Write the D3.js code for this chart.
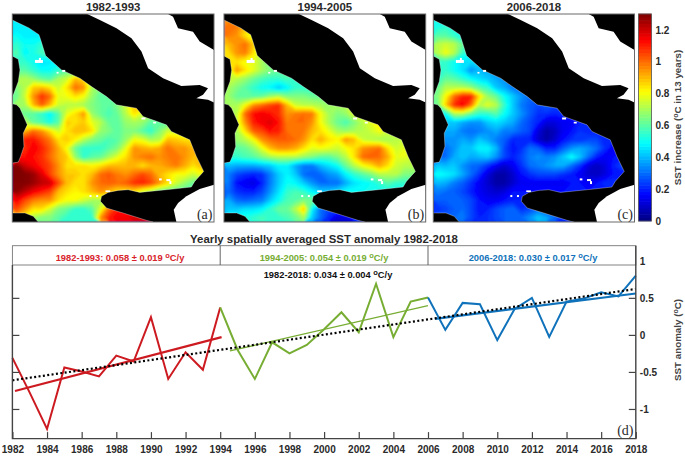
<!DOCTYPE html>
<html><head><meta charset="utf-8">
<script src="https://cdn.jsdelivr.net/npm/d3@7"></script>
<style>
html,body{margin:0;padding:0;background:#fff}
svg{display:block}
text{font-family:"Liberation Sans",Arial,sans-serif}
</style></head><body>
<svg id="c" width="685" height="456"></svg>
<script>
// ---------- DATA ----------
const yearsRed   = d3.range(1982,1995);
const valuesRed  = [-0.31,-0.78,-1.27,-0.44,-0.495,-0.56,-0.28,-0.36,0.24,-0.595,-0.234,-0.47,0.37];
const yearsGreen = d3.range(1994,2007);
const valuesGreen= [0.37,-0.2,-0.595,-0.10,-0.25,-0.135,0.077,0.306,0.036,0.69,-0.03,0.45,0.505];
const yearsBlue  = d3.range(2006,2019);
const valuesBlue = [0.505,0.068,0.432,0.414,-0.07,0.35,0.5,-0.027,0.45,0.49,0.575,0.52,0.8];
const trendRed   = [[1982.15,-0.757],[1994.08,-0.03]];
const trendGreen = [[1994.56,-0.216],[2006,0.396]];
const trendBlue  = [[2006.4,0.216],[2018,0.558]];
const trendAll   = [[1982,-0.613],[2018,0.62]];
const yearTicks  = d3.range(1982,2019,2);
const anomalyTicks = [-1,-0.5,0,0.5,1];
const colorTicks = [0,0.2,0.4,0.6,0.8,1,1.2];
const titles = ["1982-1993","1994-2005","2006-2018"];
const panelTags = ["(a)","(b)","(c)"];
const headerLabels = ["1982-1993: 0.058 ± 0.019 ","1994-2005: 0.054 ± 0.019 ","2006-2018: 0.030 ± 0.017 "];
const overallLabel = "1982-2018: 0.034 ± 0.004 ";
// Sea outline in panel units (606 x 625)
const seaOutline = [[0,18],[50,42],[80,62],[86,80],[100,125],[103,128],[148,168],[203,193],[238,218],[283,248],[313,273],[373,283],[393,308],[463,333],[478,353],[533,378],[553,428],[575,473],[548,503],[538,520],[463,528],[383,536],[348,528],[318,530],[288,536],[268,548],[265,563],[283,583],[333,598],[403,620],[423,625],[78,625],[63,608],[38,598],[0,598],[0,448],[18,445],[25,428],[35,398],[33,358],[45,333],[23,283],[13,273],[0,270],[0,250],[3,243],[18,203],[23,168],[18,136],[0,126]];
const whiteNorth = [[225,0],[263,18],[313,43],[358,73],[388,113],[408,163],[453,193],[508,216],[563,213],[588,223],[573,243],[553,253],[588,258],[606,266],[606,108],[563,83],[543,53],[498,43],[483,8],[468,0]];
const whiteSouth = [[606,513],[563,526],[523,548],[498,568],[485,588],[493,625],[606,625]];
const specks = [[68,138,24,9],[80,132,6,8],[133,174,6,5],[150,168,9,6],[388,311,12,6],[423,324,9,5],[441,494,8,6],[463,496,12,6],[472,502,6,9],[232,544,6,6],[252,544,6,6],[280,530,14,5]];
const gridA = [
[46,46,46,46],[46,48,45,45],[50,47,47,47],[55,50,50,55],[60,48,52,58,58],[55,55,50,45,47,47],
[60,60,55,50,50,55,60,60],[70,72,68,62,60,70,75,90,85,70],[65,72,88,90,85,75,85,100,95,70,65],
[62,75,95,108,100,78,80,85,80,68,60,60],[70,70,90,102,90,75,72,72,70,65,62,60,65,75,90,90],
[62,62,60,55,48,60,78,85,95,68,62,58,62,72,85,75,70],[72,72,62,58,52,60,88,85,88,78,72,62,60,68,70,68,60,60,60],
[90,90,100,95,85,75,85,90,90,85,68,65,60,65,65,60,55,65,75,75],[110,110,112,105,98,85,88,82,72,65,62,58,60,68,80,78,70,72,90,88,85,85],
[108,108,115,110,102,92,80,62,55,55,55,60,65,78,95,92,90,92,100,95,95,90,90],[112,112,112,108,100,92,88,68,55,60,62,70,78,85,95,98,100,95,98,100,95,90,88],
[130,120,115,110,105,95,85,85,85,82,85,90,90,90,90,85,90,92,95,98,92,85,90,90],[130,130,127,118,105,95,88,88,85,90,100,103,98,95,100,105,100,90,85,80,80,75,80,80],
[130,130,127,122,120,105,90,85,85,95,100,102,100,102,108,110,105,95,85,75,68,62,62],[128,122,115,110,105,90,85,82,85,90,95,90,85,85,85,75,70,62,60],
[115,105,98,95,95,85,80,80,75,70,70],[105,95,85,85,75,65,62,55,55,60,78,100,110,110],[90,80,70,65,65,60,55,55,55,55,95,110,115,115,120,118]];
const gridB = [
[95,95,90,85],[100,98,88,80],[98,95,85,78,70],[90,95,100,88,72],[85,95,98,85,70],[85,85,80,78,70,62,62],
[75,95,85,78,70,65,62,60],[75,72,68,62,58,55,55,58,55],[70,65,60,55,50,48,42,48,55,55,55],
[68,62,60,60,62,68,72,65,65,65,62],[70,70,80,95,100,105,108,90,75,72,72,70,68,70,72,80],[72,72,100,112,115,112,108,95,98,100,98,80,70,65,68,78,80],
[75,75,95,110,115,118,112,98,100,100,95,80,70,62,58,65,72,78,85],[70,70,85,102,105,112,110,100,98,98,90,85,78,70,68,70,72,75,80,75],
[68,68,72,80,95,100,102,102,100,95,85,92,85,82,95,90,75,72,70,70,72,75],[60,60,62,68,78,90,95,95,92,85,78,80,78,75,80,85,95,98,100,85,75,78,78],
[55,55,58,60,65,70,72,72,72,68,65,60,60,65,72,85,100,102,100,92,78,78,75,70],[40,38,38,38,40,42,48,48,38,32,32,40,45,50,62,72,80,85,92,85,75,72,72,72],
[32,25,22,20,22,32,42,48,42,30,28,30,35,38,48,55,60,65,72,72,72,65,65],[32,18,15,12,20,32,42,50,48,42,35,30,30,30,38,45,48,50,55,60,55,55],
[30,22,20,20,25,35,45,55,58,55,48,42,42,45,50,50,50],[38,30,28,30,32,42,50,58,60,65,62,62],[42,42,45,45,48,55,62,62,72,88,48,30,25,25,30,30],[50,50,52,55,58,55,55,58,62,70,42,30,20,12,12,20,20]];
const gridC = [
[50,50,50,48],[52,55,52,42],[60,60,55,50],[72,75,72,62],[72,80,72,55,50],[55,55,50,45,45,45],
[55,55,50,45,35,40,38,32],[55,62,60,55,50,45,42,38,35,30],[62,72,72,72,68,60,55,42,38,32,30,28],
[65,82,100,110,110,85,68,62,50,42,35,30,28],[62,88,108,115,100,72,78,72,55,42,32,28,25,28,25,25],[50,50,72,72,62,55,55,60,50,42,35,28,22,22,20,22,22],
[42,42,42,38,35,35,42,45,42,38,30,25,20,12,12,15,15,20,20],[38,38,38,32,30,32,35,38,32,32,28,25,12,5,8,15,18,22,20,20],
[35,35,35,38,35,42,38,32,28,20,20,20,10,5,10,18,22,22,25,25,20,20],[30,30,35,42,42,48,48,40,25,18,22,30,28,20,20,28,35,38,35,30,22,15,15],
[30,30,38,42,38,40,42,35,25,20,25,32,35,32,35,42,50,42,30,20,15,18,20,20],[42,40,42,35,30,28,22,15,10,15,22,30,32,35,38,38,30,22,12,8,12,20,25,25],
[50,48,45,38,30,22,12,5,5,10,18,22,25,25,25,22,20,15,10,8,12,18,18],[40,38,32,28,22,15,10,5,5,10,15,15,15,15,15,15,18,18,15,18,22,22],
[32,30,28,25,20,15,12,10,12,18,18,18],[28,28,28,28,25,18,15,15,18,20,20],[22,25,28,30,25,18,20,25,28,30,22,25,30,25,20,20],[28,28,30,32,25,20,22,25,28,30,30,35,42,38,30,20,20]];

// ---------- HELPERS ----------
const svg = d3.select("#c");
const ink = "#2a2a2a";
function jet(t){ // t in 0..1
  const c = v => Math.round(255*Math.max(0,Math.min(1,v)));
  return `rgb(${c(1.5-Math.abs(4*t-3))},${c(1.5-Math.abs(4*t-2))},${c(1.5-Math.abs(4*t-1))})`;
}
const colorScale = d3.scaleLinear().domain([0,1.3]).range([0,1]).clamp(true);
const color = v => jet(colorScale(v));

const defs = svg.append("defs");
defs.append("filter").attr("id","soft").attr("x","-5%").attr("y","-5%").attr("width","110%").attr("height","110%")
  .append("feGaussianBlur").attr("stdDeviation",1.0);

// ---------- MAP PANELS ----------
const panelX = [[12.3,214],[224,425.7],[433.3,634.5]];
const panelY = [14,222];
const grids = [gridA,gridB,gridC];
const nCols = 24, nRows = 24;
const thresholds = d3.range(0.02,1.32,0.02);

grids.forEach((rows,p)=>{
  const sx = d3.scaleLinear().domain([0,606]).range(panelX[p]);
  const sy = d3.scaleLinear().domain([0,625]).range(panelY);
  const gx = d3.scaleLinear().domain([0,nCols]).range(panelX[p]);
  const gy = d3.scaleLinear().domain([0,nRows]).range(panelY);
  const poly = d3.line().x(d=>sx(d[0])).y(d=>sy(d[1]));
  const flat = [];
  rows.forEach(r=>{ for(let i=0;i<nCols;i++) flat.push((i<r.length?r[i]:r[r.length-1])/100); });
  const [x0,x1] = panelX[p];
  const g = svg.append("g");
  g.append("rect").attr("x",x0).attr("y",panelY[0]).attr("width",x1-x0).attr("height",panelY[1]-panelY[0]).attr("fill","#000");
  defs.append("clipPath").attr("id","sea"+p).append("path").attr("d",poly(seaOutline)+"Z");
  const sea = g.append("g").attr("clip-path",`url(#sea${p})`);
  const inner = sea.append("g").attr("filter","url(#soft)");
  inner.append("rect").attr("x",x0-8).attr("y",panelY[0]-8).attr("width",x1-x0+16).attr("height",panelY[1]-panelY[0]+16).attr("fill",color(0));
  const geo = d3.geoPath(d3.geoTransform({point(x,y){ this.stream.point(gx(x),gy(y)); }}));
  const cont = d3.contours().size([nCols,nRows]).smooth(true).thresholds(thresholds)(flat);
  inner.selectAll("path").data(cont).join("path")
    .attr("d",geo).attr("fill",d=>color(d.value+0.01));
  g.append("path").attr("d",poly(seaOutline)+"Z").attr("fill","none").attr("stroke","#fff").attr("stroke-width",0.6).attr("stroke-opacity",0.55);
  g.append("path").attr("d",poly(whiteNorth)+"Z").attr("fill","#fff");
  g.append("path").attr("d",poly(whiteSouth)+"Z").attr("fill","#fff");
  g.selectAll("rect.sp").data(specks).join("rect").attr("class","sp")
    .attr("x",d=>sx(d[0])).attr("y",d=>sy(d[1]))
    .attr("width",d=>sx(d[0]+d[2])-sx(d[0])).attr("height",d=>sy(d[1]+d[3])-sy(d[1])).attr("fill","#fff");
  g.append("rect").attr("x",x0).attr("y",panelY[0]).attr("width",x1-x0).attr("height",panelY[1]-panelY[0])
    .attr("fill","none").attr("stroke","#6a6a6a").attr("stroke-width",1);
  svg.append("text").attr("x",(x0+x1)/2).attr("y",11).attr("text-anchor","middle")
    .attr("font-size",11.4).attr("font-weight","bold").attr("fill",ink).text(titles[p]);
  svg.append("text").attr("x",x1-1.5).attr("y",panelY[1]-3.5).attr("text-anchor","end")
    .style("font-family","'Liberation Serif',serif").attr("font-size",14).attr("fill",ink).text(panelTags[p]);
});

// ---------- COLORBAR ----------
const cbY = d3.scaleLinear().domain([0,1.3]).range([221,14]);
const cbSteps = d3.range(0,1.3,1.3/64);
svg.append("g").selectAll("rect").data(cbSteps).join("rect")
  .attr("x",638.5).attr("width",13).attr("y",d=>cbY(d+1.3/64)-0.3).attr("height",cbY(0)-cbY(1.3/64)+0.6)
  .attr("fill",d=>color(d+0.65/64));
svg.append("rect").attr("x",638.5).attr("y",14).attr("width",13).attr("height",207)
  .attr("fill","none").attr("stroke","#555").attr("stroke-width",0.8);
const cbAxis = svg.append("g").attr("transform","translate(651.5,0)")
  .call(d3.axisRight(cbY).tickValues(colorTicks).tickSize(0).tickPadding(4).tickFormat(d=>String(d)));
cbAxis.select(".domain").remove();
cbAxis.selectAll("text").attr("font-size",10).attr("font-weight","bold").attr("fill",ink).style("font-family","'Liberation Sans',sans-serif");
function rotLabel(x,y,before,after){
  const t = svg.append("text").attr("transform",`translate(${x},${y}) rotate(-90)`).attr("text-anchor","middle")
    .attr("font-size",9.8).attr("font-weight","bold").attr("fill","#444");
  t.append("tspan").text(before);
  t.append("tspan").attr("dy",-3).attr("font-size",7).text("o");
  t.append("tspan").attr("dy",3).text(after);
}
rotLabel(681,117.5,"SST increase (","C in 13 years)");

// ---------- LINE CHART ----------
const x = d3.scaleLinear().domain([1982,2018]).range([12.4,635.8]);
const y = d3.scaleLinear().domain([-1.4,1.2]).range([438.6,246]);
const line = d3.line().x(d=>x(d[0])).y(d=>y(d[1]));
const red="#cc1a20", green="#77ad33", blue="#0f72ba";
const plot = svg.append("g");
plot.append("rect").attr("x",12.4).attr("y",246).attr("width",623.4).attr("height",192.6).attr("fill","#fff");

const axL = svg.append("g").attr("transform","translate(12.4,0)")
  .call(d3.axisLeft(y).tickValues(anomalyTicks).tickSize(-7).tickFormat(""));
const axR = svg.append("g").attr("transform","translate(635.8,0)")
  .call(d3.axisRight(y).tickValues(anomalyTicks).tickSize(-7).tickPadding(4).tickFormat(d=>String(d)));
const axB = svg.append("g").attr("transform","translate(0,438.6)")
  .call(d3.axisBottom(x).tickValues(yearTicks).tickSize(-6.5).tickPadding(9).tickFormat(d=>String(d)));
[axL,axR,axB].forEach(a=>{
  a.selectAll(".domain").remove();
  a.selectAll("line").attr("stroke","#444").attr("stroke-width",1.2);
  a.selectAll("text").attr("font-size",10).attr("font-weight","bold").attr("fill",ink).style("font-family","'Liberation Sans',sans-serif");
});
axB.selectAll("text").attr("dy","0.55em");

const draw=(pts,col,w,dash)=>plot.append("path").attr("d",line(pts)).attr("fill","none").attr("stroke",col)
  .attr("stroke-width",w).attr("stroke-linejoin","miter").attr("stroke-dasharray",dash||null);
draw(yearsRed.map((d,i)=>[d,valuesRed[i]]),red,2);
draw(yearsGreen.map((d,i)=>[d,valuesGreen[i]]),green,2);
draw(yearsBlue.map((d,i)=>[d,valuesBlue[i]]),blue,2);
draw(trendRed,red,2.1);
draw(trendGreen,green,1.4);
draw(trendBlue,blue,2.1);
draw(trendAll,"#000",2.2,"2 2.4");

// Header band and frame
const topY=245.7, headY=265;
svg.append("rect").attr("x",12.4).attr("y",topY).attr("width",623.4).attr("height",headY-topY)
  .attr("fill","#fff").attr("stroke","#777").attr("stroke-width",0.9);
svg.selectAll("line.div").data([1994,2006]).join("line").attr("class","div")
  .attr("x1",d=>x(d)).attr("x2",d=>x(d)).attr("y1",topY).attr("y2",headY).attr("stroke","#555").attr("stroke-width",0.9);
svg.append("path").attr("d",`M12.4,${headY}V438.6H635.8V${topY}`).attr("fill","none").attr("stroke","#444").attr("stroke-width",1.4);

function degLabel(cx,yy,txt,col){
  const t = svg.append("text").attr("x",cx).attr("y",yy).attr("text-anchor","middle")
    .attr("font-size",9.3).attr("font-weight","bold").attr("fill",col);
  t.append("tspan").text(txt);
  t.append("tspan").attr("dy",-3).attr("font-size",7.5).text("o");
  t.append("tspan").attr("dy",3).text("C/y");
}
degLabel(120,260.5,headerLabels[0],"#d8232a");
degLabel(324,260.5,headerLabels[1],green);
degLabel(533,260.5,headerLabels[2],blue);
degLabel(328,278,overallLabel,"#111");
svg.append("text").attr("x",324).attr("y",243).attr("text-anchor","middle")
  .attr("font-size",11.4).attr("font-weight","bold").attr("fill",ink).text("Yearly spatially averaged SST anomaly 1982-2018");
svg.append("text").attr("x",633.5).attr("y",435).attr("text-anchor","end")
  .style("font-family","'Liberation Serif',serif").attr("font-size",14).attr("fill",ink).text("(d)");
rotLabel(681,340,"SST anomaly (","C)");
</script>
</body></html>
